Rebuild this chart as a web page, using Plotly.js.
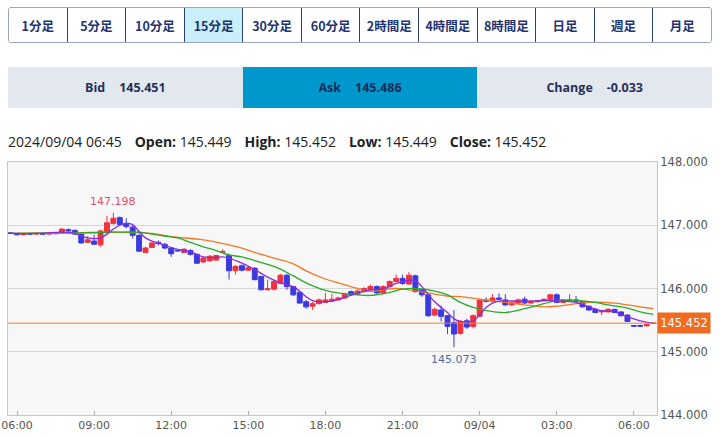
<!DOCTYPE html>
<html>
<head>
<meta charset="utf-8">
<script src="https://cdn.plot.ly/plotly-3.0.1.min.js"></script>
<style>
  html, body { margin:0; padding:0; background:#fff; width:720px; height:438px; overflow:hidden; }
  #btns { position:absolute; left:8px; top:7px; width:704px; height:36px; display:flex; border:1px solid #98a6c0; border-radius:3px; box-sizing:border-box; overflow:hidden; }
  #btns div { flex:1; display:flex; align-items:center; justify-content:center; font-family:"Noto Sans CJK JP","Noto Sans",sans-serif; font-weight:bold; font-size:12.5px; color:#1f3372; border-left:1px solid #2c427f; background:#fff; }
  #btns div:first-child { border-left:none; }
  #btns div.sel { background:#c9effb; }
  #bar { position:absolute; left:8px; top:67px; width:704px; height:41px; display:flex; }
  #bar div { flex:1; display:flex; align-items:center; justify-content:center; font-family:"Open Sans","Noto Sans",sans-serif; font-weight:bold; font-size:12.5px; color:#24305a; background:#e3e8ee; }
  #bar div.ask { background:#0098cc; color:#1b2a56; }
  #bar span.v { margin-left:14px; }
  #ohlc { position:absolute; left:8px; top:132px; font-family:"Open Sans","Noto Sans",sans-serif; font-size:14px; color:#222; white-space:nowrap; }
  #ohlc b { font-weight:bold; margin-left:13px; }
  #chart { position:absolute; left:0; top:150px; width:720px; height:288px; }
</style>
</head>
<body>
<div id="btns"></div>
<div id="bar"></div>
<div id="ohlc"></div>
<div id="chart"></div>
<script>
// ---- data ----
const periods = ["1分足","5分足","10分足","15分足","30分足","60分足","2時間足","4時間足","8時間足","日足","週足","月足"];
const selectedPeriod = "15分足";
const quoteLabels = ["Bid","Ask","Change"];
const quoteValues = ["145.451","145.486","-0.033"];
const lastTime = "2024/09/04 06:45";
const ohlcLabels = ["Open:","High:","Low:","Close:"];
const ohlcValues = ["145.449","145.452","145.449","145.452"];

const startTime = "2024-09-03 05:45"; // first candle, 15-minute candles
const openV  = [146.88,146.87,146.85,146.87,146.86,146.87,146.86,146.865,146.88,146.93,146.92,146.86,146.73,146.75,146.69,146.88,147.03,147.12,147.03,146.97,
                146.84,146.57,146.65,146.73,146.70,146.64,146.605,146.57,146.60,146.54,146.42,146.44,146.45,146.575,146.52,146.28,146.36,146.29,146.32,146.19,
                145.98,145.99,146.08,146.21,146.03,145.94,145.79,145.72,145.76,145.78,145.80,145.82,145.85,145.95,145.91,145.95,145.98,146.03,145.93,146.03,
                146.11,146.16,146.07,146.20,145.98,145.90,145.58,145.66,145.57,145.46,145.29,145.49,145.40,145.56,145.815,145.80,145.85,145.82,145.74,145.77,
                145.83,145.77,145.79,145.81,145.83,145.90,145.78,145.81,145.82,145.79,145.72,145.67,145.63,145.63,145.67,145.63,145.58,145.415,145.415,145.41,145.449];
const highV  = [146.89,146.88,146.87,146.88,146.88,146.88,146.88,146.88,146.95,146.95,146.93,146.87,146.83,146.85,146.93,147.15,147.198,147.14,147.11,147.00,
                146.86,146.66,146.74,146.76,146.72,146.66,146.61,146.64,146.62,146.55,146.50,146.53,146.53,146.62,146.55,146.37,146.38,146.35,146.34,146.20,
                146.14,146.13,146.23,146.23,146.04,145.96,145.82,145.79,145.84,145.93,145.92,145.87,145.93,145.97,145.98,146.02,146.06,146.05,146.05,146.13,
                146.22,146.22,146.26,146.22,146.00,145.91,145.70,145.73,145.58,145.66,145.50,145.52,145.59,145.83,145.86,145.91,145.92,145.91,145.79,145.84,
                145.87,145.81,145.82,145.84,145.91,145.92,145.83,145.91,145.88,145.80,145.73,145.68,145.65,145.69,145.68,145.64,145.59,145.42,145.43,145.44,145.452];
const lowV   = [146.86,146.84,146.84,146.85,146.85,146.85,146.85,146.86,146.87,146.90,146.85,146.71,146.72,146.69,146.66,146.87,147.01,146.99,146.95,146.79,
                146.58,146.56,146.64,146.68,146.62,146.50,146.59,146.56,146.52,146.39,146.40,146.42,146.44,146.56,146.14,146.22,146.27,146.28,146.13,145.97,
                145.97,145.97,146.07,145.98,145.88,145.76,145.68,145.66,145.75,145.77,145.79,145.81,145.84,145.88,145.89,145.94,145.97,145.91,145.91,146.02,
                146.10,146.06,146.06,145.94,145.87,145.55,145.56,145.48,145.28,145.073,145.27,145.36,145.37,145.55,145.78,145.79,145.82,145.73,145.73,145.76,
                145.76,145.76,145.78,145.80,145.82,145.77,145.77,145.80,145.79,145.70,145.65,145.61,145.58,145.62,145.61,145.56,145.47,145.40,145.39,145.40,145.449];
const closeV = [146.87,146.85,146.86,146.86,146.87,146.86,146.87,146.875,146.94,146.91,146.86,146.72,146.77,146.70,146.91,147.04,147.11,147.01,146.98,146.84,
                146.59,146.64,146.72,146.71,146.64,146.55,146.595,146.62,146.54,146.40,146.48,146.51,146.52,146.585,146.28,146.35,146.29,146.33,146.14,145.98,
                145.995,146.11,146.21,146.03,145.90,145.77,145.71,145.76,145.82,145.82,145.83,145.85,145.91,145.90,145.96,146.00,146.03,145.93,146.03,146.11,
                146.16,146.08,146.21,145.95,145.90,145.57,145.67,145.56,145.40,145.28,145.48,145.39,145.57,145.81,145.80,145.85,145.83,145.74,145.78,145.82,
                145.77,145.80,145.81,145.83,145.90,145.78,145.82,145.82,145.80,145.71,145.66,145.62,145.645,145.67,145.62,145.57,145.48,145.405,145.405,145.43,145.452];

// moving averages (candle index -> value)
const maShortIdx = [0,4,8,10,11,12,13,14,15,16,17,18,19,20,21,22,23,24,26,28,30,32,33,34,36,38,40,42,44,46,47,48,50,52,54,56,58,60,62,63,64,66,68,69,70,72,73,74,75,76,80,84,86,88,90,92,94,96,98,100];
const maShortV   = [146.87,146.87,146.89,146.87,146.83,146.80,146.79,146.80,146.86,146.94,147.00,147.03,147.01,146.90,146.80,146.75,146.72,146.68,146.62,146.58,146.50,146.49,146.50,146.48,146.40,146.30,146.18,146.09,146.03,145.87,145.81,145.79,145.80,145.86,145.93,145.98,145.99,146.08,146.13,146.12,146.03,145.79,145.62,145.52,145.48,145.49,145.58,145.70,145.77,145.80,145.80,145.81,145.80,145.78,145.71,145.65,145.63,145.55,145.49,145.45];
const maMidIdx = [0,8,12,16,20,22,24,26,28,30,32,34,36,38,41,44,46,49,51,54,56,59,61,63,66,68,70,72,74,77,80,83,85,88,91,93,96,98,100];
const maMidV   = [146.87,146.88,146.88,146.89,146.89,146.86,146.83,146.80,146.73,146.66,146.60,146.53,146.50,146.44,146.35,146.20,146.09,145.97,145.93,145.90,145.89,145.94,145.99,146.00,145.96,145.90,145.78,145.70,145.65,145.62,145.68,145.76,145.81,145.81,145.78,145.74,145.69,145.63,145.59];
const maLongIdx = [0,10,16,20,22,25,30,34,36,38,41,44,46,49,51,54,56,58,60,62,65,68,70,73,77,80,83,85,88,90,94,98,100];
const maLongV   = [146.87,146.88,146.89,146.88,146.87,146.82,146.77,146.69,146.64,146.57,146.48,146.39,146.28,146.15,146.09,146.00,145.95,145.98,146.00,145.98,145.93,145.88,145.87,145.83,145.78,145.74,145.71,145.72,145.76,145.78,145.77,145.71,145.68];

const xTickVals = ["2024-09-03 06:00","2024-09-03 09:00","2024-09-03 12:00","2024-09-03 15:00","2024-09-03 18:00","2024-09-03 21:00","2024-09-04 00:00","2024-09-04 03:00","2024-09-04 06:00"];
const xTickText = ["06:00","09:00","12:00","15:00","18:00","21:00","09/04","03:00","06:00"];
const yTickVals = [144,145,146,147,148];
const xRange = ["2024-09-03 05:39","2024-09-04 06:54"];
const yRange = [144,148];

// ---- html parts ----
const btns = document.getElementById('btns');
periods.forEach(p => { const d = document.createElement('div'); d.textContent = p; if (p === selectedPeriod) d.className = 'sel'; btns.appendChild(d); });
const bar = document.getElementById('bar');
quoteLabels.forEach((l, i) => {
  const d = document.createElement('div'); if (l === 'Ask') d.className = 'ask';
  const a = document.createElement('span'); a.textContent = l;
  const b = document.createElement('span'); b.className = 'v'; b.textContent = quoteValues[i];
  d.appendChild(a); d.appendChild(b); bar.appendChild(d);
});
const oh = document.getElementById('ohlc');
let html = '<span>' + lastTime + '</span>';
ohlcLabels.forEach((l, i) => { html += '<b>' + l + '</b> <span>' + ohlcValues[i] + '</span>'; });
oh.innerHTML = html;

// ---- times ----
function pad(n) { return (n < 10 ? '0' : '') + n; }
const t0 = new Date(startTime.replace(' ', 'T') + ':00Z').getTime();
function tAt(i) { const d = new Date(t0 + i * 15 * 60000); return d.getUTCFullYear() + '-' + pad(d.getUTCMonth() + 1) + '-' + pad(d.getUTCDate()) + ' ' + pad(d.getUTCHours()) + ':' + pad(d.getUTCMinutes()); }
const times = openV.map((_, i) => tAt(i));

const RED = '#f0323c', BLUE = '#3a3ae0';
const traces = [
  { type: 'candlestick', x: times, open: openV, high: highV, low: lowV, close: closeV,
    increasing: { line: { color: RED, width: 1 }, fillcolor: RED },
    decreasing: { line: { color: BLUE, width: 1 }, fillcolor: BLUE },
    whiskerwidth: 0, hoverinfo: 'skip', showlegend: false },
  { type: 'scatter', mode: 'lines', x: maLongIdx.map(tAt), y: maLongV, line: { color: '#ef7a25', width: 1.3, shape: 'spline' }, hoverinfo: 'skip', showlegend: false },
  { type: 'scatter', mode: 'lines', x: maMidIdx.map(tAt), y: maMidV, line: { color: '#2aaa2a', width: 1.3, shape: 'spline' }, hoverinfo: 'skip', showlegend: false },
  { type: 'scatter', mode: 'lines', x: maShortIdx.map(tAt), y: maShortV, line: { color: '#8a2be2', width: 1.3, shape: 'spline' }, hoverinfo: 'skip', showlegend: false }
];

const hiIdx = highV.indexOf(Math.max(...highV));
const loIdx = lowV.indexOf(Math.min(...lowV));
const last = closeV[closeV.length - 1];
const axisFont = { family: 'DejaVu Sans, Verdana, sans-serif', size: 11.5, color: '#555' };

const layout = {
  width: 720, height: 288,
  margin: { l: 8, r: 63, t: 12, b: 23 },
  paper_bgcolor: '#ffffff', plot_bgcolor: '#f7f7f7',
  showlegend: false,
  boxgap: 0.15, boxgroupgap: 0.1,
  xaxis: { type: 'date', range: xRange, tickvals: xTickVals, ticktext: xTickText, ticks: 'inside', ticklen: 4, tickcolor: '#aaa',
           showgrid: false, zeroline: false, showline: true, linecolor: '#c6c6c6', linewidth: 1, mirror: true,
           tickfont: { family: 'DejaVu Sans, Verdana, sans-serif', size: 11, color: '#555' }, rangeslider: { visible: false }, fixedrange: true },
  yaxis: { side: 'right', range: yRange, tickvals: yTickVals, tickformat: '.3f', showgrid: true, gridcolor: '#d6d6d6',
           zeroline: false, showline: true, linecolor: '#c6c6c6', linewidth: 1, mirror: true, ticks: '', tickfont: axisFont, fixedrange: true },
  shapes: [ { type: 'line', xref: 'paper', x0: 0, x1: 1, yref: 'y', y0: last, y1: last, line: { color: '#f08030', width: 1 } } ],
  annotations: [
    { x: times[hiIdx], y: highV[hiIdx], xref: 'x', yref: 'y', text: highV[hiIdx].toFixed(3), showarrow: false, yanchor: 'bottom', yshift: 3,
      font: { family: 'DejaVu Sans, sans-serif', size: 11, color: '#e0506a' } },
    { x: times[loIdx], y: lowV[loIdx], xref: 'x', yref: 'y', text: lowV[loIdx].toFixed(3), showarrow: false, yanchor: 'top', yshift: -4,
      font: { family: 'DejaVu Sans, sans-serif', size: 11, color: '#4f6ea8' } },
    { x: 1, xref: 'paper', xanchor: 'left', y: last, yref: 'y', text: last.toFixed(3), showarrow: false,
      bgcolor: '#f26a1f', borderpad: 3, width: 46, font: { family: 'DejaVu Sans, sans-serif', size: 11.5, color: '#ffffff' } }
  ]
};
Plotly.newPlot('chart', traces, layout, { staticPlot: true, displayModeBar: false });
</script>
</body>
</html>
